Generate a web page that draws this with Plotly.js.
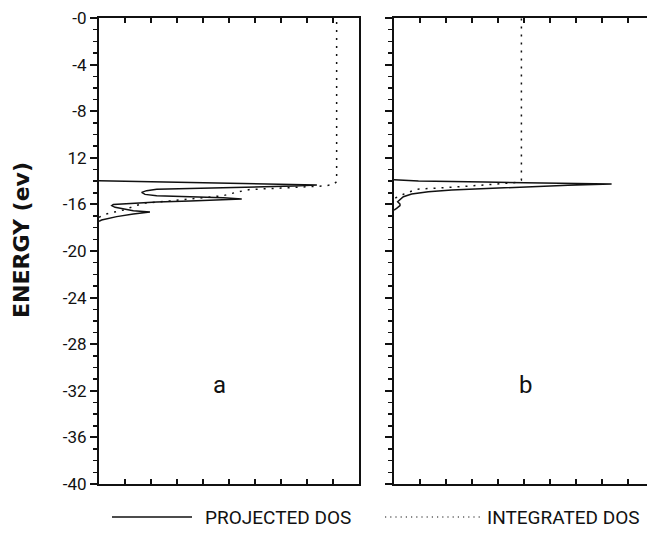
<!DOCTYPE html>
<html>
<head>
<meta charset="utf-8">
<script src="https://cdn.plot.ly/plotly-3.0.1.min.js"></script>
<style>
html,body{margin:0;padding:0;background:#fff;}
#chart{width:647px;height:535px;}
</style>
</head>
<body>
<div id="chart"></div>
<script>
// ---- data ----
// Panel a: projected DOS (x = DOS, arbitrary units; E = energy in eV)
var aProjX = [0, 2, 4, 6.58, 7.6, 8.38, 7.5, 6.58, 5.0, 3.5, 2.22, 1.83, 1.64, 1.77, 2.22, 3.5, 4.78, 5.49, 4.78, 3.5, 2.22, 0.94, 0.55, 0.49, 0.62, 1.32, 1.96, 1.32, 0.68, 0.1, 0];
var aProjE = [-13.96, -14.05, -14.14, -14.25, -14.29, -14.33, -14.42, -14.48, -14.55, -14.62, -14.71, -14.82, -14.97, -15.14, -15.25, -15.34, -15.42, -15.54, -15.62, -15.71, -15.79, -15.91, -16.0, -16.11, -16.25, -16.54, -16.65, -16.82, -17.05, -17.34, -17.45];
// Panel a: integrated DOS
var aIntX = [0, 0.23, 0.6, 0.94, 1.3, 1.7, 2.73, 3.69, 4.78, 5.3, 5.8, 7.0, 8.63, 9.0, 9.14, 9.14];
var aIntE = [-17.1, -16.85, -16.65, -16.48, -16.2, -15.9, -15.7, -15.5, -15.25, -14.95, -14.72, -14.6, -14.42, -14.3, -14.05, 0];
// Panel b: projected DOS
var bProjX = [0, 0.94, 3.5, 6.06, 8.37, 6.7, 4.78, 3.5, 2.22, 1.32, 0.68, 0.36, 0.23, 0.14, 0.23, 0.23, 0.1, 0];
var bProjE = [-13.88, -13.99, -14.08, -14.16, -14.25, -14.36, -14.53, -14.62, -14.76, -14.91, -15.11, -15.34, -15.57, -15.77, -15.97, -16.1, -16.34, -16.5];
// Panel b: integrated DOS
var bIntX = [0.05, 0.36, 0.87, 1.58, 2.54, 3.5, 4.14, 4.7, 4.9, 4.9];
var bIntE = [-15.45, -15.13, -14.7, -14.62, -14.48, -14.33, -14.25, -14.12, -13.9, 0];
// Axis ticks
var yTickVals = [0, -4, -8, -12, -16, -20, -24, -28, -32, -36, -40];
var yTickText = ["-0", "-4", "-8", "12", "-16", "-20", "-24", "-28", "-32", "-36", "-40"];
var panelLabels = ["a", "b"];
var legendLabels = ["PROJECTED DOS", "INTEGRATED DOS"];
var yTitle = "ENERGY (ev)";

// ---- chart ----
var lineFont = "Roboto, 'Liberation Sans', sans-serif";
var solid = {color: "#111", width: 1.5};
var dotted = {color: "#111", width: 1.5, dash: "2px,6px"};

var traces = [
  {x: aProjX, y: aProjE, xaxis: "x", yaxis: "y", mode: "lines", line: solid, hoverinfo: "skip"},
  {x: aIntX, y: aIntE, xaxis: "x", yaxis: "y", mode: "lines", line: dotted, hoverinfo: "skip"},
  {x: bProjX, y: bProjE, xaxis: "x2", yaxis: "y2", mode: "lines", line: solid, hoverinfo: "skip"},
  {x: bIntX, y: bIntE, xaxis: "x2", yaxis: "y2", mode: "lines", line: dotted, hoverinfo: "skip"}
];

var W = 647, H = 535, L = 99, T = 18, B = 51;
var plotW = W - L, plotH = H - T - B;
function px(xpix) { return (xpix - L) / plotW; }
function py(ypix) { return (H - B - ypix) / plotH; }

var xCommon = {
  showgrid: false, zeroline: false, showline: true, linecolor: "#111", linewidth: 2,
  ticks: "inside", ticklen: 5, tickwidth: 2, tickcolor: "#111",
  dtick: 1, tick0: 0, showticklabels: false, mirror: "ticks", fixedrange: true
};
var yCommon = {
  range: [-40, 0], showgrid: false, zeroline: false, showline: true, linecolor: "#111", linewidth: 2,
  ticks: "outside", ticklen: 7, tickwidth: 2, tickcolor: "#111",
  tickvals: yTickVals, ticktext: yTickText,
  minor: {dtick: 1, tick0: 0, ticks: "outside", ticklen: 4, tickwidth: 1.5, tickcolor: "#111", showgrid: false},
  fixedrange: true
};

var layout = {
  width: W, height: H,
  margin: {l: L, r: 0, t: T, b: B, pad: 0},
  paper_bgcolor: "#fff", plot_bgcolor: "#fff",
  showlegend: false,
  font: {family: lineFont, color: "#111"},
  xaxis: Object.assign({}, xCommon, {domain: [0, px(359)], range: [0, 10], anchor: "y"}),
  xaxis2: Object.assign({}, xCommon, {domain: [px(394), 1], range: [0, (W - 394) / 26], anchor: "y2"}),
  yaxis: Object.assign({}, yCommon, {anchor: "x", mirror: true, showticklabels: true,
    tickfont: {family: lineFont, size: 17, color: "#111"}}),
  yaxis2: Object.assign({}, yCommon, {anchor: "x2", mirror: false, showticklabels: false, matches: "y"}),
  annotations: [
    {xref: "paper", yref: "paper", x: px(22), y: py(240), text: yTitle, textangle: -90,
     showarrow: false, xanchor: "center", yanchor: "middle",
     font: {family: "'DejaVu Sans', sans-serif", size: 22, weight: "bold", color: "#111"}},
    {xref: "x", yref: "y", x: 4.65, y: -31.5, text: panelLabels[0], showarrow: false,
     font: {family: lineFont, size: 24, color: "#111"}},
    {xref: "x2", yref: "y2", x: 5.04, y: -31.5, text: panelLabels[1], showarrow: false,
     font: {family: lineFont, size: 24, color: "#111"}},
    {xref: "paper", yref: "paper", x: px(203), y: py(517), text: legendLabels[0], showarrow: false,
     xanchor: "left", yanchor: "middle", font: {family: lineFont, size: 19, color: "#111"}},
    {xref: "paper", yref: "paper", x: px(485), y: py(517), text: legendLabels[1], showarrow: false,
     xanchor: "left", yanchor: "middle", font: {family: lineFont, size: 19, color: "#111"}}
  ],
  shapes: [
    {type: "line", xref: "paper", yref: "paper", x0: px(112), x1: px(192), y0: py(517), y1: py(517),
     line: {color: "#111", width: 1.5}},
    {type: "line", xref: "paper", yref: "paper", x0: px(385), x1: px(480), y0: py(517), y1: py(517),
     line: {color: "#111", width: 1.2, dash: "1.2px,4px"}}
  ]
};

Plotly.newPlot("chart", traces, layout, {staticPlot: true, displayModeBar: false});
</script>
</body>
</html>
